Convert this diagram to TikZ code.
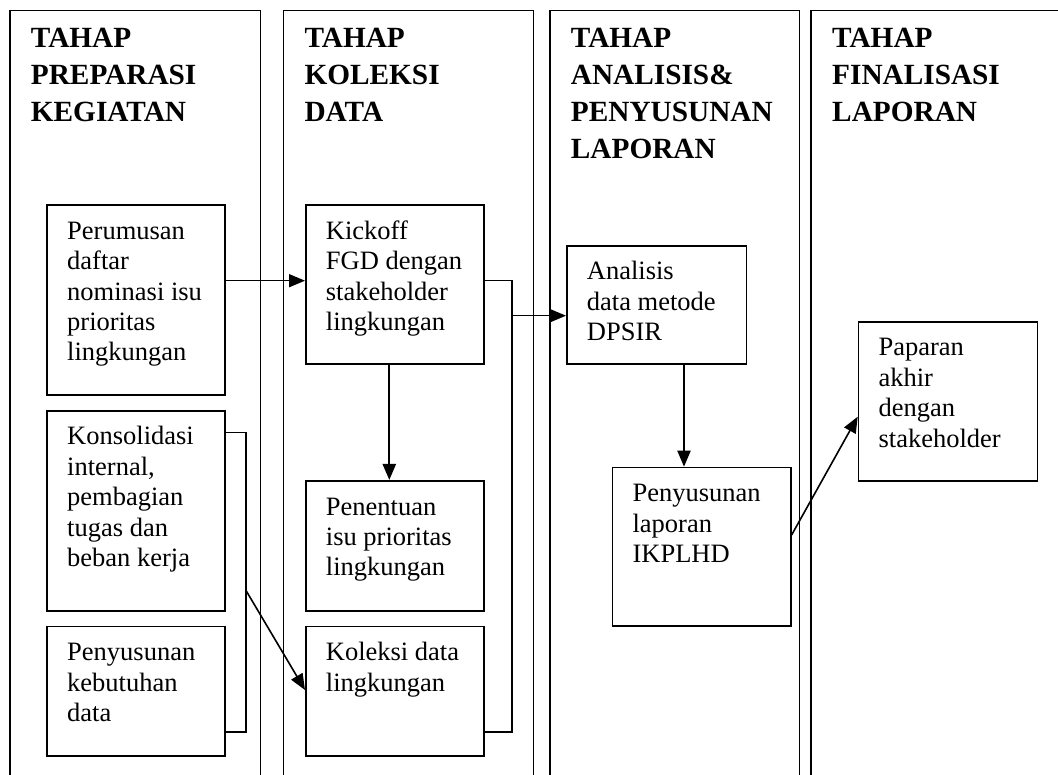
\documentclass[tikz,border=0pt]{standalone}
\usepackage{fontspec}
\setmainfont{Liberation Serif}
\usetikzlibrary{arrows.meta,calc}
\newcommand\mylines[1]{\begin{tabular}[t]{@{}l@{}}#1\end{tabular}}
\begin{document}
\begin{tikzpicture}[x=1pt,y=-1pt,
  frame/.style={line width=1.6pt},
  box/.style={draw,line width=1.6pt,inner sep=0pt,anchor=north west},
  body/.style={anchor=base west,inner sep=0pt,font=\fontsize{26.5pt}{30.4pt}\selectfont},
  ttl/.style={anchor=base west,inner sep=0pt,font=\fontsize{29.3pt}{37pt}\selectfont\bfseries},
  conn/.style={line width=1.6pt},
  arr/.style={conn,-{Triangle[length=16pt,width=13pt]}},
  darr/.style={arr,line width=2.2pt}]
\useasboundingbox (0,0) rectangle (1058,775);
\fill[white] (0,0) rectangle (1058,775);

% column frames (open at the bottom)
\draw[frame] (10,780)--(10,10.7)--(260.5,10.7)--(260.5,780);
\draw[frame] (283.5,780)--(283.5,10.7)--(533.3,10.7)--(533.3,780);
\draw[frame] (550,780)--(550,10.7)--(799.3,10.7)--(799.3,780);
\draw[frame] (811,780)--(811,10.7)--(1062,10.7);

% titles
\node[ttl] (h1) at (30.7,48) {\mylines{TAHAP\\PREPARASI\\KEGIATAN}};
\node[ttl] (h2) at (304.3,48) {\mylines{TAHAP\\KOLEKSI\\DATA}};
\node[ttl] (h3) at (570.7,48) {\mylines{TAHAP\\ANALISIS\&\\PENYUSUNAN\\LAPORAN}};
\node[ttl] (h4) at (832,48) {\mylines{TAHAP\\FINALISASI\\LAPORAN}};

% boxes
\node[box,minimum width=178pt,minimum height=189.7pt] (b1) at (46.3,204.3) {};
\node[box,minimum width=178pt,minimum height=200pt] (b2) at (46.3,410) {};
\node[box,minimum width=178pt,minimum height=129.3pt] (b3) at (46.3,625.7) {};
\node[box,minimum width=178.3pt,minimum height=159pt] (b4) at (305,204.3) {};
\node[box,minimum width=178.3pt,minimum height=130pt] (b5) at (305,480) {};
\node[box,minimum width=178.3pt,minimum height=129.3pt] (b6) at (305,625.7) {};
\node[box,minimum width=179.6pt,minimum height=118.3pt] (b7) at (566,245) {};
\node[box,minimum width=178.3pt,minimum height=158.3pt] (b8) at (611.7,466.7) {};
\node[box,minimum width=179pt,minimum height=159pt] (b9) at (857.7,321) {};

% box texts
\node[body] (t1) at ([shift={(20.7,35)}]b1.north west) {\mylines{Perumusan\\daftar\\nominasi isu\\prioritas\\lingkungan}};
\node[body] (t2) at ([shift={(20.7,35)}]b2.north west) {\mylines{Konsolidasi\\internal,\\pembagian\\tugas dan\\beban kerja}};
\node[body] (t3) at ([shift={(20.7,35)}]b3.north west) {\mylines{Penyusunan\\kebutuhan\\data}};
\node[body] (t4) at ([shift={(20.7,35)}]b4.north west) {\mylines{Kickoff\\FGD dengan\\stakeholder\\lingkungan}};
\node[body] (t5) at ([shift={(20.7,35)}]b5.north west) {\mylines{Penentuan\\isu prioritas\\lingkungan}};
\node[body] (t6) at ([shift={(20.7,35)}]b6.north west) {\mylines{Koleksi data\\lingkungan}};
\node[body] (t7) at ([shift={(20.7,35)}]b7.north west) {\mylines{Analisis\\data metode\\DPSIR}};
\node[body] (t8) at ([shift={(20.7,35)}]b8.north west) {\mylines{Penyusunan\\laporan\\IKPLHD}};
\node[body] (t9) at ([shift={(20.7,35)}]b9.north west) {\mylines{Paparan\\akhir\\dengan\\stakeholder}};

% helper coordinates
\coordinate (yA) at (0,280.7);
\coordinate (k1) at (511.7,280.7);
\coordinate (k2) at (511.7,731.7);
\coordinate (k3) at (511.7,315.7);
\coordinate (dx1) at (389.3,0);
\coordinate (dx2) at (684,0);
\coordinate (c1) at (245.7,432.7);
\coordinate (c2) at (245.7,731.7);
\coordinate (c3) at (245.7,590);
\coordinate (c4) at (0,690);
\coordinate (p1) at (0,535);
\coordinate (p2) at (0,416.7);

% connectors
\draw[arr] (b1.east |- yA) -- (b4.west |- yA);
\draw[conn] (b4.east |- k1) -- (k1) -- (k2) -- (b6.east |- k2);
\draw[arr] (k3) -- (b7.west |- k3);
\draw[darr] (b4.south -| dx1) -- (b5.north -| dx1);
\draw[darr] (b7.south -| dx2) -- (b8.north -| dx2);
\draw[conn] (b2.east |- c1) -- (c1) -- (c2) -- (b3.east |- c2);
\draw[arr] (c3) -- (b6.west |- c4);
\draw[arr] (b8.east |- p1) -- (b9.west |- p2);
\end{tikzpicture}
\end{document}
